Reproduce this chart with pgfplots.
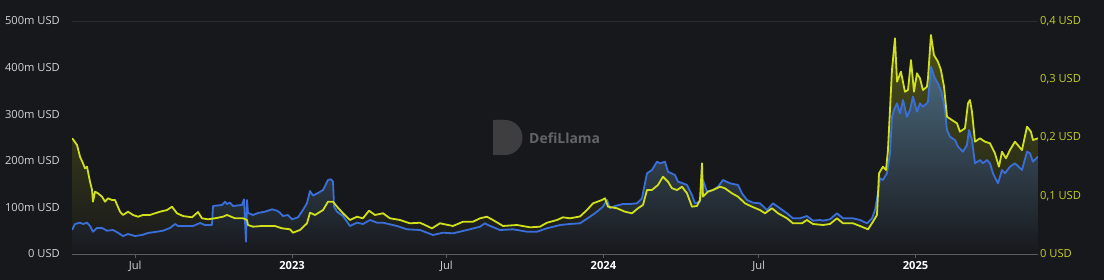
\documentclass[border=0pt]{standalone}
\usepackage{pgfplots}
\usepackage{pgfplotstable}
\pgfplotsset{compat=1.18}
\usepackage{fontspec}
\setmainfont{Open Sans}
\definecolor{bg}{RGB}{23,24,28}
\definecolor{tvl}{RGB}{58,111,218}
\definecolor{price}{RGB}{208,224,26}
\definecolor{pricelab}{RGB}{196,208,40}
\definecolor{lab}{RGB}{210,210,212}
\definecolor{axgray}{RGB}{90,92,98}
\definecolor{gridc}{RGB}{44,45,50}
\definecolor{blueTop}{RGB}{74,104,124}
\definecolor{yelTop}{RGB}{78,82,22}
\definecolor{wm}{RGB}{100,100,102}
\definecolor{wmlogo}{RGB}{62,62,64}

\pgfplotstableread{
day tvl
107.0 51.5
110.5 64.4
116.4 67.2
119.9 64.4
124.6 67.2
128.1 60.1
131.6 47.9
136.3 55.8
142.2 55.8
148.0 50.0
155.1 51.5
160.9 45.7
166.8 38.6
172.7 42.9
180.9 38.6
189.1 40.8
196.1 45.1
206.7 47.9
213.7 50.0
221.9 55.8
227.8 64.4
231.3 60.1
239.5 60.1
248.9 60.1
257.1 66.5
262.9 62.2
271.1 62.2
272.3 103.0
282.9 105.2
286.4 112.2
288.7 107.3
292.2 110.1
295.7 103.0
306.3 105.2
308.6 117.4
311.0 26.4
312.2 115.9
313.3 88.0
319.2 83.7
325.1 88.0
333.3 90.8
341.5 95.9
347.3 92.9
350.8 88.6
354.4 81.5
360.2 83.7
364.9 74.5
372.0 78.8
377.8 94.4
382.5 109.4
386.0 135.2
389.5 125.5
395.4 130.9
401.3 137.3
407.1 158.8
410.6 160.3
413.0 155.2
414.2 101.5
417.7 90.8
424.7 81.5
432.9 60.1
441.1 67.2
448.1 64.4
456.4 73.0
464.6 67.2
471.6 67.2
488.0 60.1
499.7 53.0
515.0 51.5
530.2 40.8
541.9 45.7
553.6 44.4
570.1 51.5
585.3 58.6
591.2 65.9
594.7 62.2
608.7 51.5
624.0 53.0
640.4 47.9
652.1 47.9
663.8 55.2
679.1 62.2
690.8 64.4
702.5 65.9
714.3 80.0
722.5 90.8
729.5 101.5
734.2 115.9
737.7 98.1
743.6 103.0
752.9 107.3
761.1 107.3
769.4 108.8
775.2 119.5
781.1 173.2
786.9 180.3
792.8 198.1
796.3 194.6
802.2 198.1
805.7 176.6
813.9 169.5
817.4 155.2
823.3 151.7
828.0 148.1
833.8 126.6
837.4 108.8
843.2 112.2
846.7 158.8
851.4 133.7
858.5 137.3
864.3 144.4
870.2 158.8
878.4 151.7
887.8 148.1
892.4 130.3
898.3 115.9
905.3 110.1
913.5 108.8
921.8 94.4
928.8 108.8
937.0 98.1
945.2 87.3
952.2 76.6
960.4 76.6
968.6 81.5
975.7 71.5
983.9 73.0
987.4 71.5
995.6 74.5
1003.8 87.3
1010.9 76.6
1022.6 76.6
1030.8 73.0
1039.0 65.9
1044.9 76.6
1048.4 94.4
1051.9 130.3
1054.2 162.5
1057.7 158.8
1062.4 173.2
1066.0 216.1
1068.3 294.6
1070.6 309.0
1074.2 323.4
1077.7 301.9
1081.2 330.5
1085.9 294.6
1089.4 309.0
1092.9 337.6
1097.6 305.4
1101.1 323.4
1104.6 316.1
1109.3 323.4
1110.5 326.8
1114.0 401.9
1118.7 377.1
1122.2 366.3
1126.9 344.9
1130.4 309.0
1132.8 266.1
1136.3 251.7
1142.2 244.6
1145.7 230.3
1151.5 219.5
1156.2 233.9
1158.6 266.1
1162.1 244.6
1165.6 194.6
1171.5 201.7
1175.0 194.6
1179.7 201.7
1183.2 194.6
1186.7 173.2
1192.6 151.7
1197.3 180.3
1200.8 173.2
1206.6 187.3
1212.5 194.6
1220.7 180.3
1226.6 219.5
1230.1 216.1
1233.6 198.1
1239.5 208.8
}\tvldata

\pgfplotstableread{
day price
107.0 0.1986
108.2 0.1969
112.9 0.1871
116.4 0.1670
119.9 0.1557
122.2 0.1471
124.6 0.1499
128.1 0.1241
130.5 0.1099
131.6 0.0898
134.0 0.1070
137.5 0.1042
142.2 0.0984
145.7 0.0898
149.2 0.0956
153.9 0.0927
157.4 0.0927
163.3 0.0726
166.8 0.0670
172.7 0.0726
178.5 0.0670
184.4 0.0640
190.2 0.0670
198.4 0.0670
204.3 0.0699
210.2 0.0726
218.4 0.0755
224.2 0.0812
230.1 0.0699
237.1 0.0652
247.7 0.0630
254.7 0.0721
259.4 0.0613
266.4 0.0596
274.6 0.0613
284.0 0.0640
288.7 0.0670
298.1 0.0613
307.5 0.0613
312.2 0.0584
313.3 0.0498
319.2 0.0469
329.7 0.0481
345.0 0.0481
353.2 0.0441
362.6 0.0424
366.1 0.0366
374.3 0.0412
382.5 0.0527
386.0 0.0709
391.9 0.0670
401.3 0.0755
407.1 0.0898
413.0 0.0898
417.7 0.0812
424.7 0.0699
432.9 0.0584
441.1 0.0640
448.1 0.0613
455.2 0.0743
462.2 0.0670
471.6 0.0699
479.8 0.0613
491.5 0.0584
503.2 0.0527
515.0 0.0537
529.0 0.0441
538.4 0.0527
553.6 0.0481
565.4 0.0554
577.1 0.0554
585.3 0.0613
593.5 0.0640
600.5 0.0584
612.3 0.0481
628.7 0.0498
643.9 0.0458
655.6 0.0469
663.8 0.0537
675.6 0.0584
682.6 0.0630
690.8 0.0613
702.5 0.0644
710.7 0.0755
717.8 0.0870
728.3 0.0927
731.8 0.0956
735.4 0.0812
745.9 0.0785
755.3 0.0726
763.5 0.0699
770.5 0.0785
776.4 0.0841
781.1 0.1099
786.9 0.1099
794.0 0.1185
799.8 0.1327
805.7 0.1241
810.4 0.1128
816.3 0.1099
822.1 0.1155
828.0 0.1042
833.8 0.0812
839.7 0.0824
843.2 0.0927
845.6 0.1557
846.7 0.0984
852.6 0.1070
858.5 0.1099
866.7 0.1155
872.5 0.1128
880.7 0.1042
887.8 0.0984
896.0 0.0870
904.2 0.0812
913.5 0.0755
919.4 0.0699
927.6 0.0785
934.7 0.0699
945.2 0.0613
952.2 0.0527
962.8 0.0527
968.6 0.0584
975.7 0.0515
987.4 0.0498
995.6 0.0515
1003.8 0.0613
1010.9 0.0527
1022.6 0.0527
1030.8 0.0481
1040.2 0.0424
1046.0 0.0554
1050.7 0.0670
1053.1 0.1385
1057.7 0.1499
1061.3 0.1442
1063.6 0.1785
1068.3 0.3159
1071.8 0.3703
1074.2 0.2958
1078.8 0.3130
1083.5 0.2786
1087.1 0.2815
1090.6 0.3330
1094.1 0.2786
1097.6 0.3102
1101.1 0.3016
1104.6 0.2815
1109.3 0.2872
1110.5 0.3016
1114.0 0.3760
1117.5 0.3416
1122.2 0.3301
1125.7 0.3159
1129.3 0.2872
1132.8 0.2357
1138.6 0.2300
1144.5 0.2244
1148.0 0.2100
1153.9 0.2158
1157.4 0.2587
1159.7 0.2644
1162.1 0.2443
1165.6 0.1928
1171.5 0.1986
1177.3 0.1928
1183.2 0.1900
1189.0 0.1729
1193.7 0.1499
1197.3 0.1756
1201.9 0.1643
1206.6 0.1785
1212.5 0.1928
1220.7 0.1785
1226.6 0.2185
1231.2 0.2100
1233.6 0.1957
1239.5 0.1986
}\pricedata

\pgfplotsset{base/.style={
  at={(72bp,26bp)}, anchor=south west, scale only axis,
  width=966bp, height=233bp, xmin=107, xmax=1239.5,
}}

\begin{document}
\begin{tikzpicture}
\fill[bg] (0,0) rectangle (1104bp,280bp);
% watermark
\fill[wmlogo, rounded corners=3bp] (505bp,125bp) -- (493bp,125bp) -- (493bp,160bp) -- (505bp,160bp);
\fill[wmlogo] (493bp,125bp) -- (493bp,160bp) -- (505bp,160bp) arc[start angle=90, end angle=-90, radius=17.5bp] -- cycle;
\node[wm, font=\bfseries\fontsize{14}{14}\selectfont, anchor=west, inner sep=0pt] at (529bp,142bp) {DefiLlama};

% yellow fill (price axis)
\begin{axis}[base, hide axis, ymin=0, ymax=0.4]
\addplot[draw=none, top color=yelTop, bottom color=bg] table[x=day,y=price]{\pricedata} \closedcycle;
\end{axis}

% TVL axis
\begin{axis}[base, ymin=0, ymax=500,
  axis lines*=left,
  y axis line style={draw=none},
  x axis line style={draw=axgray, line width=0.8bp},
  xtick={181,365,546,730,912,1096},
  xticklabels={Jul,{\bfseries\color{white}2023},Jul,{\bfseries\color{white}2024},Jul,{\bfseries\color{white}2025}},
  ytick={0,100,200,300,400,500},
  yticklabels={0 USD,100m USD,200m USD,300m USD,400m USD,500m USD},
  tick label style={font=\fontsize{11.2}{13}\selectfont},
  xticklabel style={text=lab},
  yticklabel style={text=lab, inner sep=0pt, xshift=-8bp},
  ytick style={draw=none},
  xtick style={draw=axgray, line width=0.8bp},
  tick align=outside, major tick length=4bp,
  clip mode=individual,
  ]
\draw[gridc, line width=0.8bp] (axis cs:107,500) -- (axis cs:1239.5,500);
\addplot[draw=none, top color=blueTop, bottom color=bg] table[x=day,y=tvl]{\tvldata} \closedcycle;
\addplot[tvl, line width=1.8bp, line join=round] table[x=day,y=tvl]{\tvldata};
\end{axis}

% price line axis
\begin{axis}[base, ymin=0, ymax=0.4,
  axis x line=none, axis y line*=right,
  y axis line style={draw=none},
  ytick={0,0.1,0.2,0.3,0.4},
  yticklabels={0 USD,{0,1 USD},{0,2 USD},{0,3 USD},{0,4 USD}},
  ytick style={draw=none},
  yticklabel style={text=pricelab, font=\fontsize{11.2}{13}\selectfont, inner sep=0pt, xshift=2bp},
  ]
\addplot[price, line width=1.8bp, line join=round] table[x=day,y=price]{\pricedata};
\end{axis}
\pgfresetboundingbox
\path (0,0) rectangle (1104bp,280bp);
\end{tikzpicture}
\end{document}
